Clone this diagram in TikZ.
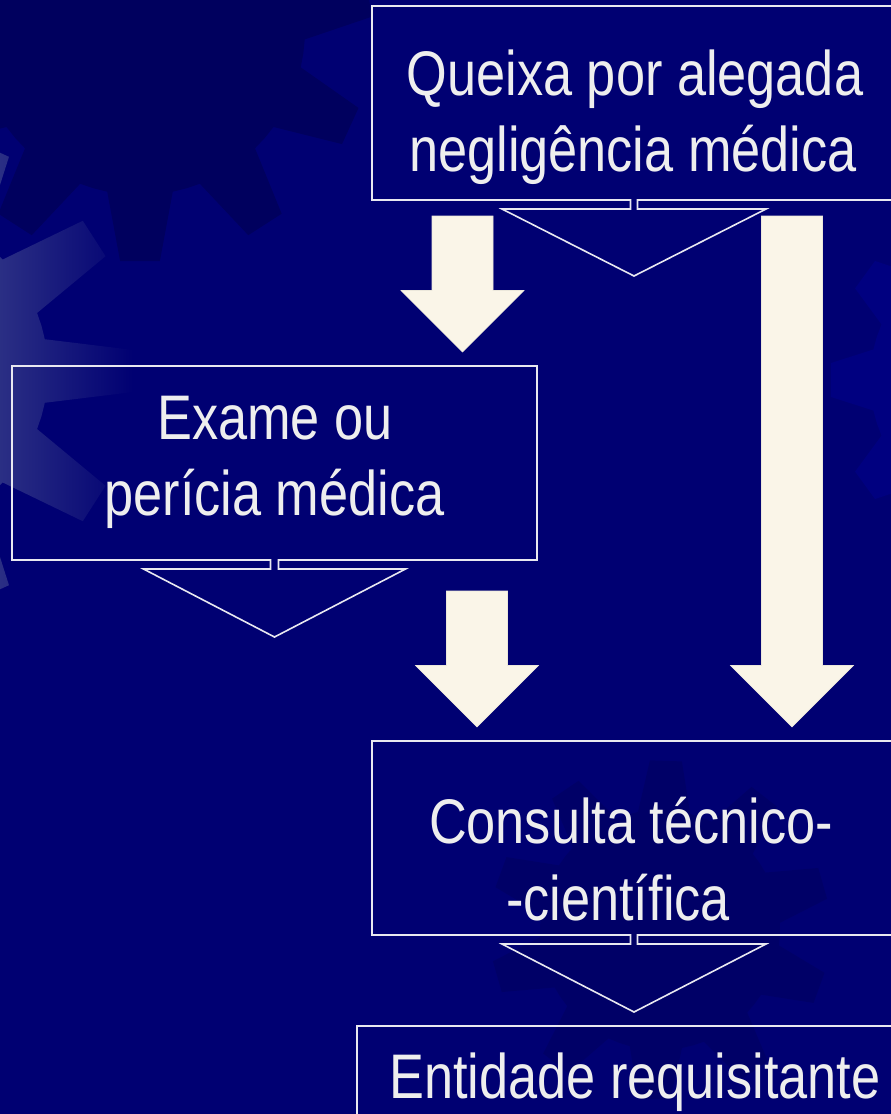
\documentclass[tikz,border=0pt]{standalone}
\usepackage{fontspec}
\newfontfamily\narrowsans[FakeStretch=0.83]{Liberation Sans}
\definecolor{bgnavy}{RGB}{0,0,114}
\definecolor{darkgear}{RGB}{0,0,94}
\definecolor{lightgear}{RGB}{0,0,128}
\definecolor{gearhi}{RGB}{155,170,181}
\definecolor{cream}{RGB}{250,245,232}
\definecolor{txt}{RGB}{238,238,238}
\definecolor{lineclr}{RGB}{232,232,240}
\tikzset{
  boxnode/.style={rectangle, draw=none, inner sep=0pt, outer sep=0pt, minimum width=#1, minimum height=194pt},
  boxtext/.style={text=txt, font=\narrowsans\fontsize{63}{76}\selectfont, anchor=base, inner sep=0pt},
  boxline/.style={draw=lineclr, line width=1.6pt, line join=miter},
  blockarrow/.style={fill=cream, draw=cream!88!gray, line width=0.6pt},
}
\newcommand\calloutbox[4]{% name, neck half, triangle half, apex depth
  \draw[boxline] ([xshift=-#2]#1.south) -| (#1.north west) -| (#1.south east)
    -- ([xshift=#2]#1.south) -- ([xshift=#2,yshift=-9pt]#1.south)
    -- ([xshift=#3,yshift=-9pt]#1.south) -- ([yshift=-#4]#1.south)
    -- ([xshift=-#3,yshift=-9pt]#1.south) -- ([xshift=-#2,yshift=-9pt]#1.south) -- cycle;}
\newcommand\blockarrowat[3]{% centre x, top y, apex y
  \path[blockarrow] ({#1-30.5},#2) -- ({#1+30.5},#2) -- ({#1+30.5},{#3-61.5})
    -- ({#1+61.5},{#3-61.5}) -- (#1,#3) -- ({#1-61.5},{#3-61.5}) -- ({#1-30.5},{#3-61.5}) -- cycle;}
\newcommand\gearshape[7]{% cx, cy, rin, rout, n, rot, style
  \begin{scope}[shift={(#1,#2)}]
  \path[#7] ({#6+0.5*360/#5}:#3) \foreach \i in {1,...,#5} {
      -- ({#6+\i*360/#5-0.35*360/#5}:#3) -- ({#6+\i*360/#5-0.15*360/#5}:#4)
      -- ({#6+\i*360/#5+0.15*360/#5}:#4) -- ({#6+\i*360/#5+0.35*360/#5}:#3)
      -- ({#6+\i*360/#5+0.5*360/#5}:#3) } -- cycle;
  \end{scope}}
\begin{document}
\begin{tikzpicture}[x=1pt,y=-1pt]
\useasboundingbox (0,0) rectangle (891,1114);
\clip (0,0) rectangle (891,1114);
\fill[bgnavy] (0,0) rectangle (891,1114);
% background gears
\gearshape{140}{30}{165}{232}{11}{90}{fill=darkgear}
\gearshape{1010}{380}{140}{180}{10}{180}{fill=lightgear}
\gearshape{660}{930}{120}{170}{10}{20}{fill=darkgear, opacity=0.5}
\gearshape{-112}{371}{160}{246}{11}{0}{left color=gearhi, right color=bgnavy}
% boxes
\node[boxnode=524pt] (queixa) at (634,103) {};
\node[boxnode=525pt] (exame) at (274.5,463) {};
\node[boxnode=524pt] (consulta) at (634,838) {};
\node[boxnode=556pt, draw=lineclr, line width=1.6pt] (entidade) at (635,1123) {};
\calloutbox{queixa}{3.5pt}{132pt}{76pt}
\calloutbox{exame}{4pt}{131pt}{77pt}
\calloutbox{consulta}{3.5pt}{132pt}{77pt}
% texts
\node[boxtext] (q1) at (635,95) {Queixa por alegada};
\node[boxtext] (q2) at (633,171) {negligência médica};
\node[boxtext] (e1) at (275,439) {Exame ou};
\node[boxtext] (e2) at (274.5,515) {perícia médica};
\node[boxtext] (c1) at (631,843) {Consulta técnico-};
\node[boxtext] (c2) at (618,920) {-científica};
\node[boxtext] (n1) at (635,1098) {Entidade requisitante};
% block arrows
\blockarrowat{462.5}{216}{352}
\blockarrowat{792}{216}{727}
\blockarrowat{477}{591}{727}
\end{tikzpicture}
\end{document}
